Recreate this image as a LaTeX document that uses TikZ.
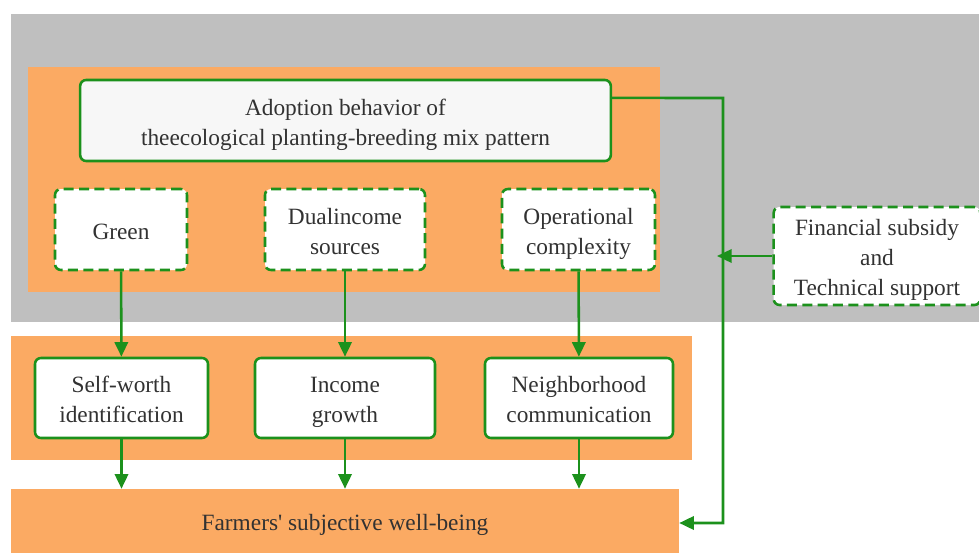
\documentclass[tikz,border=0pt]{standalone}
\usepackage{fontspec}
\setmainfont{Liberation Serif}
\usetikzlibrary{arrows.meta}
\definecolor{panelorange}{RGB}{251,170,99}
\definecolor{panelgray}{RGB}{191,191,191}
\definecolor{linegreen}{RGB}{28,145,28}
\definecolor{textgray}{RGB}{50,50,50}
\begin{document}
\begin{tikzpicture}[x=0.75pt,y=-0.75pt,
  font=\fontsize{17.5}{22.5}\selectfont,text=textgray,
  box/.style={draw=linegreen,line width=1.9pt,rounded corners=4.5pt,fill=white,
    align=center,inner sep=0pt,text depth=0pt},
  dashbox/.style={box,dash pattern=on 7.5pt off 4pt},
  % text box heights by number of lines
  oneline/.style={text height=15pt},
  twoline/.style={text height=37pt},
  threeline/.style={text height=59.5pt},
  arr/.style={draw=linegreen,line width=1.9pt,-{Triangle[length=11pt,width=10pt]}}]
  \useasboundingbox (0,0) rectangle (979,553);

  % Panels
  \fill[panelgray] (11,14) rectangle (979,322);
  \fill[panelorange] (28,67) rectangle (660,292);
  \fill[panelorange] (11,336) rectangle (692,460);

  % Adoption behavior and its dimensions
  \node[box,twoline,fill=gray!6,minimum width=398pt,minimum height=60.75pt] (adopt) at (345.5,120.5)
    {Adoption behavior of\\theecological planting-breeding mix pattern};
  \node[dashbox,oneline,minimum width=99pt,minimum height=60.75pt] (green) at (121,229.5) {Green};
  \node[dashbox,twoline,minimum width=120pt,minimum height=60.75pt] (dual) at (345,229.5) {Dualincome\\sources};
  \node[dashbox,twoline,minimum width=114.75pt,minimum height=60.75pt] (complex) at (578.5,229.5) {Operational\\complexity};
  \node[dashbox,threeline,minimum width=155pt,minimum height=73.5pt] (support) at (877,256)
    {Financial subsidy\\and\\Technical support};

  % Mediating paths
  \node[box,twoline,minimum width=129.75pt,minimum height=60pt] (selfworth) at (121.5,398) {Self-worth\\identification};
  \node[box,twoline,minimum width=135pt,minimum height=60pt] (income) at (345,398) {Income\\growth};
  \node[box,twoline,minimum width=141pt,minimum height=60pt] (neighbor) at (579,398) {Neighborhood\\communication};

  % Outcome
  \node[fill=panelorange,minimum width=501pt,minimum height=51pt,inner sep=0pt,text depth=0.5pt] (wellbeing) at (345,523)
    {Farmers\textquotesingle{} subjective well-being};

  % Arrows
  \draw[arr] (green) -- (selfworth);
  \draw[arr] (dual) -- (income);
  \draw[arr] (complex) -- (neighbor);
  \draw[arr] (selfworth) -- (selfworth |- wellbeing.north);
  \draw[arr] (income) -- (income |- wellbeing.north);
  \draw[arr] (neighbor) -- (neighbor |- wellbeing.north);

  % Direct effect and moderator
  \coordinate (rail) at (723,98);
  \draw[arr] ([yshift=16.9pt]adopt.east) -- (rail) |- (wellbeing.east);
  \draw[arr] (support.west) -- ([xshift=-4.5pt]rail |- support.west);
\end{tikzpicture}
\end{document}
